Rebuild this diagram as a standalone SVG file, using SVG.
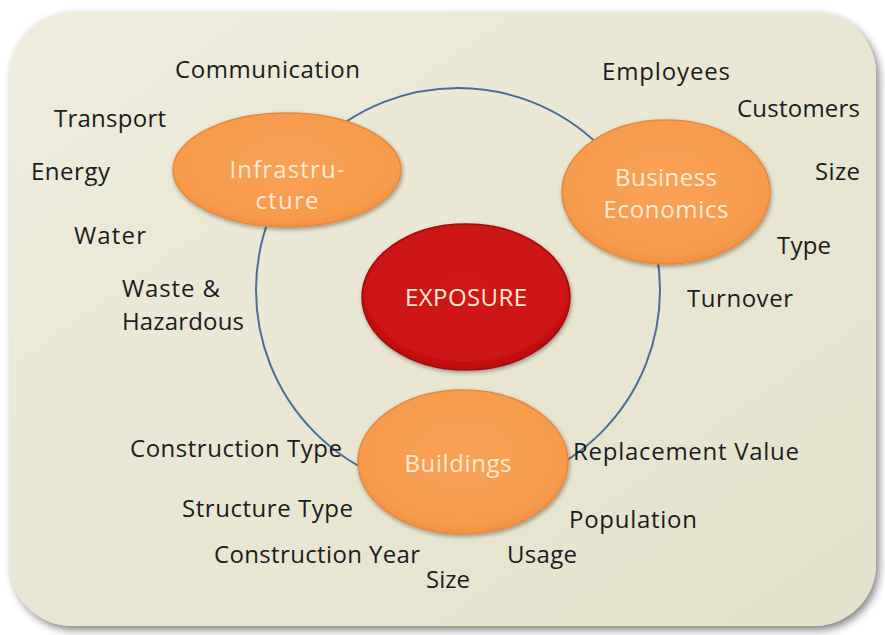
<svg xmlns="http://www.w3.org/2000/svg" width="885" height="635" viewBox="0 0 885 635">
<defs>
<linearGradient id="panelG" x1="0" y1="0" x2="1" y2="1">
<stop offset="0" stop-color="#eeecdb"/>
<stop offset="1" stop-color="#e4e1ca"/>
</linearGradient>
<radialGradient id="orG" cx="0.5" cy="0.45" r="0.6">
<stop offset="0" stop-color="#f9a256"/>
<stop offset="0.8" stop-color="#f79b4d"/>
<stop offset="1" stop-color="#e98a3c"/>
</radialGradient>
<radialGradient id="redG" cx="0.5" cy="0.45" r="0.6">
<stop offset="0" stop-color="#d01414"/>
<stop offset="0.8" stop-color="#cc1212"/>
<stop offset="1" stop-color="#a70b0b"/>
</radialGradient>
<filter id="sh" x="-10%" y="-10%" width="125%" height="125%">
<feGaussianBlur in="SourceAlpha" stdDeviation="4"/>
<feOffset dx="3" dy="4" result="b"/>
<feComponentTransfer><feFuncA type="linear" slope="0.5"/></feComponentTransfer>
<feMerge><feMergeNode/><feMergeNode in="SourceGraphic"/></feMerge>
</filter>
<filter id="esh" x="-10%" y="-10%" width="125%" height="130%">
<feGaussianBlur in="SourceAlpha" stdDeviation="2"/>
<feOffset dx="1" dy="2"/>
<feComponentTransfer><feFuncA type="linear" slope="0.35"/></feComponentTransfer>
<feMerge><feMergeNode/><feMergeNode in="SourceGraphic"/></feMerge>
</filter>
</defs>
<style>
.lbl{font-family:"Open Sans","Liberation Sans",sans-serif;font-size:24px;fill:#1c1c1c}
.in{font-family:"Open Sans","Liberation Sans",sans-serif;font-size:24px;fill:#fde9d6;text-anchor:middle}
.or{fill:url(#orG);stroke:#e58a3e;stroke-width:1.5;filter:url(#esh)}
.rd{fill:url(#redG);stroke:#9c0c0c;stroke-width:1.5;filter:url(#esh)}
</style>
<rect width="885" height="635" fill="#ffffff"/>
<rect id="panel" x="10" y="12" width="866" height="614" rx="62" ry="62" fill="url(#panelG)" filter="url(#sh)"/>
<g id="connectors">
<circle cx="458" cy="290" r="202" fill="none" stroke="#4a6d98" stroke-width="2"/>
</g>
<g id="infrastructure">
<ellipse class="or" cx="287" cy="170" rx="114" ry="57"/>
<text class="in" x="287" y="178" textLength="115">Infrastru-</text>
<text class="in" x="287" y="209" textLength="63">cture</text>
</g>
<g id="business">
<ellipse class="or" cx="666" cy="192" rx="104" ry="72"/>
<text class="in" x="666" y="186" textLength="102">Business</text>
<text class="in" x="666" y="218" textLength="125">Economics</text>
</g>
<g id="exposure">
<ellipse class="rd" cx="466" cy="297" rx="104" ry="73"/>
<text class="in" x="466" y="306" textLength="122">EXPOSURE</text>
</g>
<g id="buildings">
<ellipse class="or" cx="463" cy="462" rx="105" ry="72"/>
<text class="in" x="458" y="472" textLength="107">Buildings</text>
</g>
<g id="labels">
<text class="lbl" x="175" y="78" textLength="185">Communication</text>
<text class="lbl" x="54" y="127" textLength="112">Transport</text>
<text class="lbl" x="31" y="180" textLength="79">Energy</text>
<text class="lbl" x="74" y="244" textLength="72">Water</text>
<text class="lbl" x="122" y="297" textLength="98">Waste &amp;</text>
<text class="lbl" x="122" y="330" textLength="122">Hazardous</text>
<text class="lbl" x="602" y="80" textLength="128">Employees</text>
<text class="lbl" x="737" y="117" textLength="123">Customers</text>
<text class="lbl" x="815" y="180" textLength="45">Size</text>
<text class="lbl" x="777" y="254" textLength="54">Type</text>
<text class="lbl" x="687" y="307" textLength="106">Turnover</text>
<text class="lbl" x="130" y="457" textLength="212">Construction Type</text>
<text class="lbl" x="573" y="460" textLength="226">Replacement Value</text>
<text class="lbl" x="182" y="517" textLength="171">Structure Type</text>
<text class="lbl" x="569" y="528" textLength="128">Population</text>
<text class="lbl" x="214" y="563" textLength="206">Construction Year</text>
<text class="lbl" x="507" y="563" textLength="70">Usage</text>
<text class="lbl" x="426" y="588" textLength="44">Size</text>
</g>
</svg>
